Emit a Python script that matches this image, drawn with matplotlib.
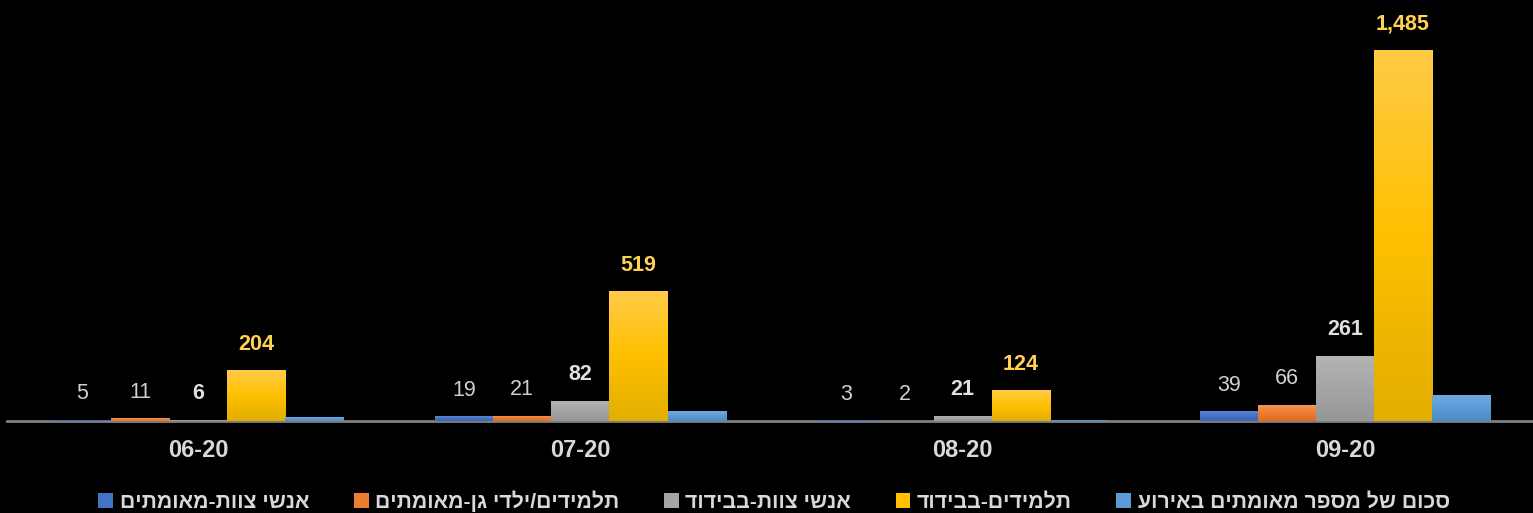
import numpy as np
import matplotlib
matplotlib.use('Agg')
import matplotlib.pyplot as plt
from matplotlib.colors import LinearSegmentedColormap

plt.rcParams['font.family'] = ['Liberation Sans', 'DejaVu Sans']

months = ['06-20', '07-20', '08-20', '09-20']
staff_confirmed = [5, 19, 3, 39]
students_confirmed = [11, 21, 2, 66]
staff_isolation = [6, 82, 21, 261]
students_isolation = [204, 519, 124, 1485]
event_confirmed_sum = [16, 40, 5, 105]

series_names = ['אנשי צוות-מאומתים', 'תלמידים/ילדי גן-מאומתים', 'אנשי צוות-בבידוד',
                'תלמידים-בבידוד', 'סכום של מספר מאומתים באירוע']
series = [staff_confirmed, students_confirmed, staff_isolation,
          students_isolation, event_confirmed_sum]
# (top, middle, bottom) gradient colours per series
grads = [('#5B84D6', '#4472C4', '#3A64B2'),
         ('#F59A5E', '#ED7D31', '#E06D1F'),
         ('#B4B4B4', '#A5A5A5', '#979797'),
         ('#FFCB47', '#FFC000', '#E2AE00'),
         ('#72A9DE', '#5B9BD5', '#4A8BC8')]


def rtl(s):
    # matplotlib lays text out left to right, so flip hebrew by hand
    return s[::-1]


fig = plt.figure(figsize=(15.33, 5.13), dpi=100, facecolor='black')
ax = fig.add_axes([7 / 1533, 92 / 513, 1529 / 1533, 400 / 513])
ax.set_facecolor('black')

x = np.arange(len(months))
w = 0.152
handles = []
for i, (vals, name, g) in enumerate(zip(series, series_names, grads)):
    bars = ax.bar(x + (i - 2) * w, vals, w, color=g[1], label=rtl(name), zorder=2)
    handles.append(bars)
    cmap = LinearSegmentedColormap.from_list('g%d' % i, [g[2], g[1], g[0]])
    grad = np.linspace(0, 1, 64).reshape(-1, 1)
    for b in bars:
        im = ax.imshow(grad, cmap=cmap, origin='lower', aspect='auto', zorder=3,
                       extent=[b.get_x(), b.get_x() + b.get_width(), 0, b.get_height()])
        im.set_clip_path(b)

    if i in (0, 1):
        ax.bar_label(bars, fmt='{:,.0f}', padding=11, color='#D0D0D0',
                     fontsize=15.5, zorder=4)
    elif i == 2:
        ax.bar_label(bars, fmt='{:,.0f}', padding=11, color='#E0E0E0',
                     fontsize=15.5, fontweight='bold', zorder=4)
    elif i == 3:
        ax.bar_label(bars, fmt='{:,.0f}', padding=11, color='#FFD34F',
                     fontsize=15.5, fontweight='bold', zorder=4)

ax.set_xlim(-0.5, 3.5)
ax.set_ylim(0, 1600)
ax.set_xticks(x)
ax.set_xticklabels(months, fontsize=17, fontweight='bold', color='#D9D9D9')
ax.tick_params(axis='x', length=0, pad=13)
ax.set_yticks([])
for s in ['top', 'left', 'right']:
    ax.spines[s].set_visible(False)
ax.spines['bottom'].set_color('#7F7F7F')
ax.spines['bottom'].set_linewidth(2)
ax.spines['bottom'].set_zorder(1)

leg = fig.legend(handles=handles, loc='lower center', bbox_to_anchor=(0.505, -0.035),
                 ncol=5, frameon=False, handlelength=0.7, handleheight=0.7,
                 handletextpad=0.3, columnspacing=2.1,
                 prop={'size': 15.3, 'weight': 'bold'})
for t in leg.get_texts():
    t.set_color('#D9D9D9')

fig.savefig('out.png', dpi=100, facecolor='black')
